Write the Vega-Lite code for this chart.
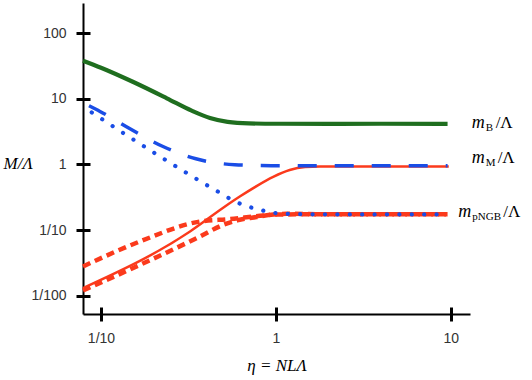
{
  "$schema": "https://vega.github.io/schema/vega-lite/v6.json",
  "width": 387,
  "height": 311,
  "autosize": "none",
  "padding": {"left": 83, "top": 3, "right": 62, "bottom": 66},
  "background": "white",
  "config": {"view": {"stroke": null}},
  "datasets": {
    "curves": [
      {"s": "B", "x": 0.0789, "y": 38.1},
      {"s": "B", "x": 0.1, "y": 29.8},
      {"s": "B", "x": 0.152, "y": 18.2},
      {"s": "B", "x": 0.238, "y": 10.2},
      {"s": "B", "x": 0.33, "y": 6.6},
      {"s": "B", "x": 0.42, "y": 5.1},
      {"s": "B", "x": 0.53, "y": 4.45},
      {"s": "B", "x": 0.7, "y": 4.22},
      {"s": "B", "x": 1.05, "y": 4.17},
      {"s": "B", "x": 2, "y": 4.15},
      {"s": "B", "x": 4, "y": 4.17},
      {"s": "B", "x": 9.6, "y": 4.15},
      {"s": "Plo", "x": 0.0789, "y": 0.012},
      {"s": "Plo", "x": 0.368, "y": 0.0798},
      {"s": "Plo", "x": 0.5, "y": 0.12},
      {"s": "Plo", "x": 0.622, "y": 0.1435},
      {"s": "Plo", "x": 0.776, "y": 0.158},
      {"s": "Plo", "x": 0.966, "y": 0.172},
      {"s": "Plo", "x": 1.5, "y": 0.174},
      {"s": "Plo", "x": 9.6, "y": 0.174},
      {"s": "Pup", "x": 0.0789, "y": 0.0279},
      {"s": "Pup", "x": 0.167, "y": 0.067},
      {"s": "Pup", "x": 0.368, "y": 0.135},
      {"s": "Pup", "x": 0.546, "y": 0.147},
      {"s": "Pup", "x": 0.811, "y": 0.165},
      {"s": "Pup", "x": 1.15, "y": 0.177},
      {"s": "Pup", "x": 2, "y": 0.174},
      {"s": "Pup", "x": 9.6, "y": 0.174},
      {"s": "Mr", "x": 0.0789, "y": 0.01306},
      {"s": "Mr", "x": 0.323, "y": 0.0952},
      {"s": "Mr", "x": 0.5, "y": 0.219},
      {"s": "Mr", "x": 0.622, "y": 0.324},
      {"s": "Mr", "x": 0.776, "y": 0.468},
      {"s": "Mr", "x": 0.966, "y": 0.646},
      {"s": "Mr", "x": 1.2, "y": 0.822},
      {"s": "Mr", "x": 1.47, "y": 0.912},
      {"s": "Mr", "x": 1.78, "y": 0.931},
      {"s": "Mr", "x": 9.75, "y": 0.931},
      {"s": "M", "x": 0.0854, "y": 7.85},
      {"s": "M", "x": 0.0987, "y": 6.43},
      {"s": "M", "x": 0.144, "y": 3.59},
      {"s": "M", "x": 0.223, "y": 1.91},
      {"s": "M", "x": 0.349, "y": 1.22},
      {"s": "M", "x": 0.45, "y": 1.06},
      {"s": "M", "x": 0.583, "y": 0.99},
      {"s": "M", "x": 0.8, "y": 0.965},
      {"s": "M", "x": 1.05, "y": 0.955},
      {"s": "M", "x": 3, "y": 0.955},
      {"s": "M", "x": 9.6, "y": 0.955},
      {"s": "P", "x": 0.0885, "y": 6.2},
      {"s": "P", "x": 0.214, "y": 1.36},
      {"s": "P", "x": 0.448, "y": 0.411},
      {"s": "P", "x": 0.601, "y": 0.264},
      {"s": "P", "x": 0.71, "y": 0.224},
      {"s": "P", "x": 0.839, "y": 0.199},
      {"s": "P", "x": 0.991, "y": 0.182},
      {"s": "P", "x": 1.3, "y": 0.175},
      {"s": "P", "x": 3, "y": 0.173},
      {"s": "P", "x": 9.45, "y": 0.173}
    ],
    "labels": [
      {"sub": "B", "x": 13.18, "y": 3.59},
      {"sub": "M", "x": 13.18, "y": 1.05},
      {"sub": "pNGB", "x": 11.06, "y": 0.161}
    ]
  },
  "layer": [
    {
      "data": {"name": "curves"},
      "encoding": {
        "x": {
          "field": "x", "type": "quantitative",
          "scale": {"type": "log", "domain": [0.0789, 12.9], "nice": false},
          "axis": {
            "values": [0.1, 1, 10],
            "labelExpr": "datum.value < 0.5 ? '1/10' : (datum.value < 5 ? '1' : '10')",
            "grid": false, "domainColor": "black", "domainWidth": 2,
            "tickColor": "black", "tickWidth": 3, "tickSize": 7,
            "labelFont": "Liberation Sans", "labelFontSize": 14, "labelColor": "#333", "labelPadding": 10,
            "title": "η = NLΛ", "titleFont": "Liberation Serif", "titleFontStyle": "italic",
            "titleFontWeight": "normal", "titleFontSize": 17, "titleColor": "black", "titlePadding": 12
          }
        },
        "y": {
          "field": "y", "type": "quantitative",
          "scale": {"type": "log", "domain": [0.00526, 288.8], "nice": false},
          "axis": {
            "values": [0.01, 0.1, 1, 10, 100],
            "labelExpr": "datum.value < 0.05 ? '1/100' : (datum.value < 0.5 ? '1/10' : (datum.value < 5 ? '1' : (datum.value < 50 ? '10' : '100')))",
            "grid": false, "domainColor": "black", "domainWidth": 2,
            "tickColor": "black", "tickWidth": 3, "tickSize": 7,
            "labelFont": "Liberation Sans", "labelFontSize": 14, "labelColor": "#333", "labelPadding": 10,
            "title": "M/Λ", "titleFont": "Liberation Serif", "titleFontStyle": "italic",
            "titleFontWeight": "normal", "titleFontSize": 17, "titleColor": "black",
            "titleAngle": 0, "titleAlign": "left", "titleBaseline": "middle", "titleX": -80, "titleY": 160
          }
        }
      },
      "layer": [
        {"transform": [{"filter": "datum.s === 'B'"}],
         "mark": {"type": "line", "color": "#1f6e1f", "strokeWidth": 4.2, "interpolate": "monotone"}},
        {"transform": [{"filter": "datum.s === 'Plo'"}],
         "mark": {"type": "line", "color": "#fb3a1c", "strokeWidth": 4.5, "strokeDash": [8, 5], "interpolate": "monotone"}},
        {"transform": [{"filter": "datum.s === 'Pup'"}],
         "mark": {"type": "line", "color": "#fb3a1c", "strokeWidth": 4.5, "strokeDash": [8, 5], "interpolate": "monotone"}},
        {"transform": [{"filter": "datum.s === 'Mr'"}],
         "mark": {"type": "line", "color": "#fb3a1c", "strokeWidth": 2.5, "interpolate": "monotone"}},
        {"transform": [{"filter": "datum.s === 'M'"}],
         "mark": {"type": "line", "color": "#1a4de6", "strokeWidth": 3.5, "strokeDash": [19, 18], "interpolate": "monotone"}},
        {"transform": [{"filter": "datum.s === 'P'"}],
         "mark": {"type": "line", "color": "#1a4de6", "strokeWidth": 4.2, "strokeDash": [0.1, 12.3], "strokeCap": "round", "interpolate": "monotone"}}
      ]
    },
    {
      "data": {"name": "labels"},
      "encoding": {
        "x": {
          "field": "x", "type": "quantitative",
          "scale": {"type": "log", "domain": [0.0789, 12.9], "nice": false},
          "axis": {"orient": "bottom", "values": [0.1, 1, 10], "labels": false, "domain": false, "grid": false,
                   "title": null, "offset": -7, "tickSize": 7, "tickWidth": 3, "tickColor": "black"}
        },
        "y": {
          "field": "y", "type": "quantitative",
          "scale": {"type": "log", "domain": [0.00526, 288.8], "nice": false},
          "axis": {"orient": "left", "values": [0.01, 0.1, 1, 10, 100], "labels": false, "domain": false, "grid": false,
                   "title": null, "offset": -7, "tickSize": 7, "tickWidth": 3, "tickColor": "black"}
        }
      },
      "layer": [
        {"mark": {"type": "text", "text": "m", "align": "left", "baseline": "alphabetic",
                  "font": "Liberation Serif", "fontStyle": "italic", "fontSize": 18, "color": "black"}},
        {"mark": {"type": "text", "align": "left", "baseline": "alphabetic", "dx": 14, "dy": 3,
                  "font": "Liberation Serif", "fontSize": 11, "color": "black"},
         "encoding": {"text": {"field": "sub"}}},
        {"transform": [{"filter": "datum.sub === 'B'"}],
         "mark": {"type": "text", "text": "/Λ", "align": "left", "baseline": "alphabetic", "dx": 24,
                  "font": "Liberation Serif", "fontSize": 17, "color": "black"}},
        {"transform": [{"filter": "datum.sub === 'M'"}],
         "mark": {"type": "text", "text": "/Λ", "align": "left", "baseline": "alphabetic", "dx": 26,
                  "font": "Liberation Serif", "fontSize": 17, "color": "black"}},
        {"transform": [{"filter": "datum.sub === 'pNGB'"}],
         "mark": {"type": "text", "text": "/Λ", "align": "left", "baseline": "alphabetic", "dx": 45,
                  "font": "Liberation Serif", "fontSize": 17, "color": "black"}}
      ]
    }
  ],
  "resolve": {"axis": {"x": "independent", "y": "independent"}}
}
